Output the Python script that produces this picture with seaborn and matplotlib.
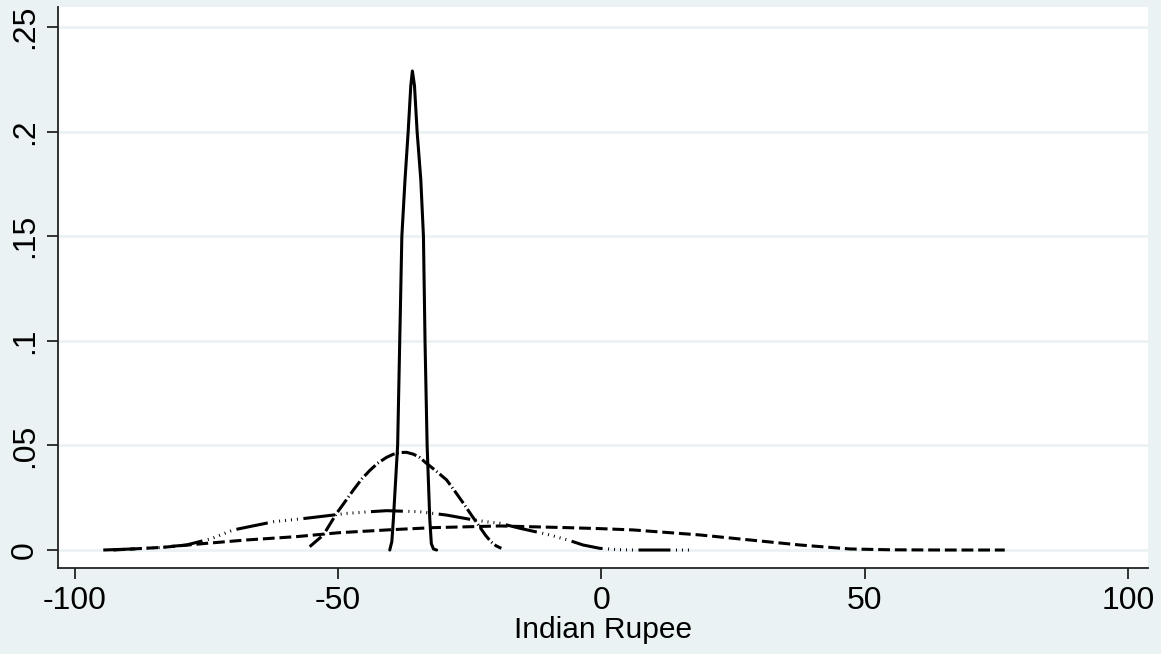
import seaborn as sns
import numpy as np
import pandas as pd
import matplotlib.pyplot as plt

# kernel densities
narrow_x = [-40.2, -39.8, -39.5, -38.7, -38.3, -37.9, -37.3, -36.7, -36.2, -35.9, -35.5, -35.0,
            -34.3, -33.8, -33.5, -33.1, -32.6, -32.3, -31.9, -31.3]
narrow_y = [0.0, 0.004, 0.015, 0.05, 0.10, 0.15, 0.177, 0.20, 0.222, 0.229, 0.222, 0.20,
            0.177, 0.15, 0.10, 0.05, 0.015, 0.003, 0.0005, 0.0]

mid_x = [-55.4, -52.8, -50.3, -49.0, -47.1, -45.5, -44.0, -42.5, -40.8, -39.5, -38.3, -37.0,
         -35.7, -34.5, -33.2, -31.5, -29.4, -27.8, -26.2, -24.5, -23.1, -22.0, -21.0, -20.0, -19.0]
mid_y = [0.0016, 0.0072, 0.0175, 0.022, 0.0287, 0.034, 0.038, 0.0415, 0.0443, 0.0458, 0.0466,
         0.0467, 0.0458, 0.0442, 0.0414, 0.038, 0.0335, 0.028, 0.0223, 0.016, 0.011, 0.007,
         0.004, 0.002, 0.0008]

wide_x = [-94.6, -89, -84, -78.8, -74, -69.9, -62.3, -56.0, -51.0, -48.4, -44, -40.8, -34.5,
          -29.4, -25.0, -21.8, -19.3, -15.5, -9.8, -6, -3.5, -0.3, 3, 6, 11, 16.8]
wide_y = [0, 0.0005, 0.0012, 0.0024, 0.0055, 0.0096, 0.0135, 0.0152, 0.0167, 0.0175, 0.0183,
          0.0188, 0.0183, 0.0167, 0.0147, 0.0135, 0.0128, 0.0104, 0.0072, 0.0045, 0.0024,
          0.0008, 0.0002, 0, 0, 0]

widest_x = [-92.7, -83.2, -75, -67.4, -57.9, -49.7, -40, -31.9, -19.3, -6.6, 0, 6.0, 18.7,
            28.2, 37.7, 47.2, 55, 65, 76.6]
widest_y = [0, 0.0013, 0.0032, 0.0048, 0.0064, 0.0083, 0.0097, 0.0107, 0.0115, 0.0107, 0.0102,
            0.0096, 0.0072, 0.0048, 0.0024, 0.0005, 0.0001, 0, 0]

x_ticks = [-100, -50, 0, 50, 100]
y_ticks = [0, 0.05, 0.1, 0.15, 0.2, 0.25]
y_labels = ['0', '.05', '.1', '.15', '.2', '.25']

bg = '#eaf2f3'

sns.set_style('ticks')
plt.rcParams['font.family'] = ['Liberation Sans', 'DejaVu Sans']
plt.rcParams['lines.scale_dashes'] = False
plt.rcParams['text.color'] = 'black'
plt.rcParams['xtick.color'] = 'black'
plt.rcParams['ytick.color'] = 'black'
plt.rcParams['axes.labelcolor'] = 'black'

fig = plt.figure(figsize=(11.61, 6.54), dpi=100, facecolor=bg)
ax = fig.add_axes([58 / 1161, 1 - 568 / 654, 1090 / 1161, 561 / 654])
ax.set_facecolor('white')

series = [
    (widest_x, widest_y, (0, (8.5, 3.5))),
    (wide_x, wide_y, (0, (23, 4, 0.7, 3.6, 0.7, 3.6, 0.7, 3.6, 0.7, 3.6, 0.7, 4))),
    (mid_x, mid_y, (0, (11, 2.2, 0.8, 2.2))),
    (narrow_x, narrow_y, '-'),
]
for xs, ys, ls in series:
    sns.lineplot(x=xs, y=ys, ax=ax, color='black', lw=2.2, linestyle=ls,
                 sort=False, estimator=None)

ax.set_xlim(-103.2, 103.8)
ax.set_ylim(-0.0086, 0.2596)
ax.set_xticks(x_ticks)
ax.set_xticklabels([str(t) for t in x_ticks], fontsize=23)
ax.set_yticks(y_ticks)
ax.set_yticklabels(y_labels, fontsize=23, rotation=90, va='center')
ax.tick_params(length=8, width=1.3, color='#222222', pad=5)
ax.yaxis.grid(True, color=bg, lw=2)
ax.set_axisbelow(True)
ax.set_xlabel('Indian Rupee', fontsize=21.5, labelpad=0)
ax.set_ylabel('')

for side in ['top', 'right']:
    ax.spines[side].set_visible(False)
for side in ['left', 'bottom']:
    ax.spines[side].set_color('#222222')
    ax.spines[side].set_linewidth(1.3)

plt.savefig('out.png', dpi=100, facecolor=bg)
